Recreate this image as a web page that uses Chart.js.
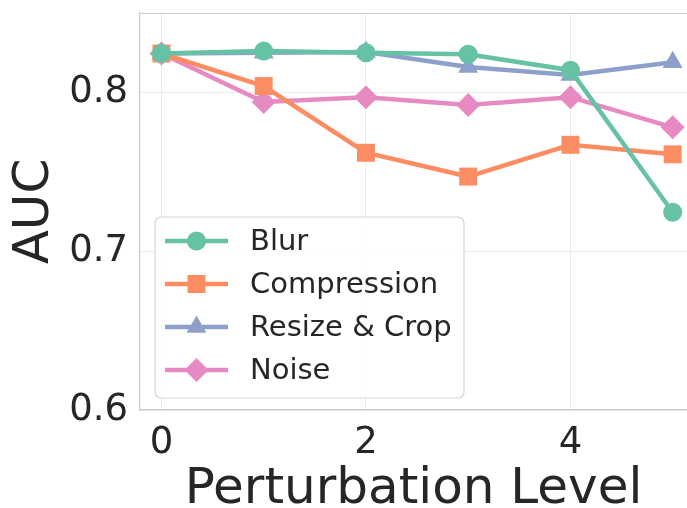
<!DOCTYPE html>
<html>
<head>
<meta charset="utf-8">
<script src="https://cdn.jsdelivr.net/npm/chart.js@4/dist/chart.umd.min.js"></script>
<style>
  html, body { margin: 0; padding: 0; background: #fff; }
  #wrap { width: 687px; height: 508px; position: relative; }
</style>
</head>
<body>
<div id="wrap"><canvas id="aucChart"></canvas></div>
<script>
// perturbation levels on the x axis
var levels = [0, 1, 2, 3, 4, 5];

// AUC for each perturbation type
var blurAuc        = [0.8245, 0.826, 0.825, 0.824, 0.814, 0.7245];
var compressionAuc = [0.8245, 0.804, 0.762, 0.747, 0.767, 0.761];
var resizeCropAuc  = [0.8245, 0.825, 0.8255, 0.816, 0.811, 0.819];
var noiseAuc       = [0.8245, 0.794, 0.797, 0.792, 0.797, 0.778];

var xTicks = [0, 2, 4];
var yTicks = [0.6, 0.7, 0.8];

var FONT = "'DejaVu Sans', sans-serif";
var TEXT = '#262626';

function toPoints(values) {
    return levels.map(function(lv, i) { return { x: lv, y: values[i] }; });
}

var series = [
    { label: 'Blur',          data: blurAuc,        color: '#66c2a5', style: 'circle',   radius: 9.5 },
    { label: 'Compression',   data: compressionAuc, color: '#fc8d62', style: 'rect',     radius: 12.7 },
    { label: 'Resize & Crop', data: resizeCropAuc,  color: '#8da0cb', style: 'triangle', radius: 11.5 },
    { label: 'Noise',         data: noiseAuc,       color: '#e78ac3', style: 'rectRot',  radius: 12 }
];

var datasets = series.map(function(s) {
    return {
        label: s.label,
        data: toPoints(s.data),
        borderColor: s.color,
        backgroundColor: s.color,
        borderWidth: 4.5,
        pointStyle: s.style,
        pointRadius: s.radius,
        pointHoverRadius: s.radius,
        pointBorderWidth: 0,
        tension: 0,
        clip: false
    };
});

// draw one legend marker by hand
function drawMarker(ctx, style, x, y, r) {
    ctx.beginPath();
    if (style === 'circle') {
        ctx.arc(x, y, r, 0, Math.PI * 2);
    } else if (style === 'rect') {
        var h = r * Math.SQRT1_2;
        ctx.rect(x - h, y - h, 2 * h, 2 * h);
    } else if (style === 'triangle') {
        ctx.moveTo(x, y - r);
        ctx.lineTo(x + r * Math.sqrt(3) / 2, y + r / 2);
        ctx.lineTo(x - r * Math.sqrt(3) / 2, y + r / 2);
        ctx.closePath();
    } else {
        ctx.moveTo(x, y - r);
        ctx.lineTo(x + r, y);
        ctx.lineTo(x, y + r);
        ctx.lineTo(x - r, y);
        ctx.closePath();
    }
    ctx.fill();
}

var framePlugin = {
    id: 'frame',
    beforeDatasetsDraw: function(chart) {
        var ca = chart.chartArea, ctx = chart.ctx;
        ctx.save();
        ctx.strokeStyle = '#cccccc';
        ctx.lineWidth = 1.2;
        ctx.beginPath();
        ctx.moveTo(ca.left, ca.top + 0.5);
        ctx.lineTo(ca.right, ca.top + 0.5);
        ctx.stroke();
        ctx.restore();
    }
};

var legendPlugin = {
    id: 'boxLegend',
    afterDraw: function(chart) {
        var ca = chart.chartArea, ctx = chart.ctx;
        var bx = ca.left + 15, by = 217, bw = 309, bh = 181, rad = 6;
        ctx.save();
        ctx.fillStyle = 'rgba(255,255,255,0.85)';
        ctx.strokeStyle = '#d6d6d6';
        ctx.lineWidth = 1.2;
        ctx.beginPath();
        ctx.roundRect(bx, by, bw, bh, rad);
        ctx.fill();
        ctx.stroke();

        ctx.font = '29px ' + FONT;
        ctx.textBaseline = 'middle';
        ctx.textAlign = 'left';
        series.forEach(function(s, i) {
            var y = by + 24 + i * 43;
            ctx.strokeStyle = s.color;
            ctx.fillStyle = s.color;
            ctx.lineWidth = 4.5;
            ctx.beginPath();
            ctx.moveTo(bx + 10, y);
            ctx.lineTo(bx + 73, y);
            ctx.stroke();
            drawMarker(ctx, s.style, bx + 41.5, y, s.radius);
            ctx.fillStyle = TEXT;
            ctx.fillText(s.label, bx + 95, y + 1);
        });
        ctx.restore();
    }
};

var ctx = document.getElementById('aucChart').getContext('2d');
var chart = new Chart(ctx, {
    type: 'line',
    data: { datasets: datasets },
    options: {
        responsive: true,
        maintainAspectRatio: false,
        animation: false,
        layout: { autoPadding: false, padding: { top: 13, right: 0, left: 0, bottom: 0 } },
        plugins: {
            legend: { display: false },
            tooltip: { enabled: false }
        },
        scales: {
            x: {
                type: 'linear',
                min: -0.21,
                max: 5.14,
                afterBuildTicks: function(scale) {
                    scale.ticks = xTicks.map(function(v) { return { value: v }; });
                },
                afterFit: function(scale) {
                    scale.height = 98;
                    scale.paddingLeft = 0;
                    scale.paddingRight = 0;
                },
                grid: { color: '#ebebeb', lineWidth: 1, drawTicks: false, tickLength: 0 },
                border: { color: '#cccccc', width: 1.2 },
                ticks: { font: { family: FONT, size: 37 }, color: TEXT, padding: 11, maxRotation: 0 },
                title: {
                    display: true,
                    text: 'Perturbation Level',
                    font: { family: FONT, size: 50, lineHeight: 0.7 },
                    color: TEXT,
                    padding: { top: 0, bottom: 0 }
                }
            },
            y: {
                min: 0.6,
                max: 0.85,
                afterBuildTicks: function(scale) {
                    scale.ticks = yTicks.map(function(v) { return { value: v }; });
                },
                afterFit: function(scale) {
                    scale.width = 140;
                    scale.paddingTop = 0;
                    scale.paddingBottom = 0;
                },
                grid: { color: '#ebebeb', lineWidth: 1, drawTicks: false, tickLength: 0 },
                border: { color: '#cccccc', width: 1.2 },
                ticks: {
                    font: { family: FONT, size: 37 },
                    color: TEXT,
                    padding: 12,
                    callback: function(v) { return v.toFixed(1); }
                },
                title: {
                    display: true,
                    text: 'AUC',
                    font: { family: FONT, size: 50 },
                    color: TEXT,
                    padding: { top: 5, bottom: 0 }
                }
            }
        }
    },
    plugins: [framePlugin, legendPlugin]
});
</script>
</body>
</html>
